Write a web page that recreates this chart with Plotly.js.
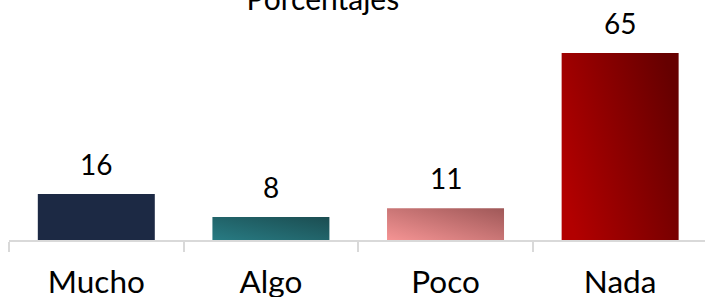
<!DOCTYPE html>
<html>
<head>
<meta charset="utf-8">
<script src="https://cdn.plot.ly/plotly-3.0.1.min.js"></script>
<style>html,body{margin:0;padding:0;background:#fff;}#chart{width:705px;height:297px;}</style>
</head>
<body>
<div id="chart"></div>
<script>
const categories = ["Mucho", "Algo", "Poco", "Nada"];
const values = [16, 8, 11, 65];
const titleText = "Porcentajes";
const baseColors = ["#1c2944", "#287a82", "#f28f8f", "#b30000"];
const gradients = [
  null,
  {x1: 0, y1: 1, x2: 1, y2: 0, from: "#287b83", to: "#1b4d51"},
  {x1: 0, y1: 1, x2: 1, y2: 0, from: "#f59494", to: "#9f5858"},
  {x1: 0, y1: 0.7, x2: 1, y2: 0.3, from: "#b20000", to: "#660000"}
];

const FONT = "Lato, 'Open Sans', sans-serif";

const trace = {
  type: "bar",
  x: categories,
  y: values,
  marker: {color: baseColors, line: {width: 0}},
  hoverinfo: "none",
  showlegend: false
};

const annotations = categories.map((c, i) => ({
  x: c, y: values[i], xref: "x", yref: "y",
  text: String(values[i]), showarrow: false,
  yanchor: "bottom", yshift: 11,
  font: {family: FONT, size: 28, color: "#000"}
}));

const layout = {
  width: 705, height: 297,
  margin: {l: 9, r: 0, t: 0, b: 57},
  paper_bgcolor: "#fff", plot_bgcolor: "#fff",
  bargap: 0.33,
  title: {
    text: titleText, xref: "container", yref: "container",
    x: 0.458, xanchor: "center", y: 0.965, yanchor: "bottom",
    font: {family: FONT, size: 30, color: "#000"}
  },
  xaxis: {
    type: "category", range: [-0.5, 3.486],
    tickson: "boundaries", ticks: "outside", ticklen: 10, tickwidth: 2, tickcolor: "#d9d9d9",
    ticklabelstandoff: 14,
    showline: true, linecolor: "#d9d9d9", linewidth: 1.5,
    showgrid: false, zeroline: false,
    tickfont: {family: FONT, size: 31.5, color: "#000"}
  },
  yaxis: {
    range: [0, 83.4], visible: false, showgrid: false, zeroline: false
  },
  annotations: annotations,
  font: {family: FONT}
};

Plotly.newPlot("chart", [trace], layout, {displayModeBar: false, staticPlot: true}).then(gd => {
  const svg = gd.querySelector("svg.main-svg");
  const NS = "http://www.w3.org/2000/svg";
  let defs = svg.querySelector("defs");
  if (!defs) { defs = document.createElementNS(NS, "defs"); svg.insertBefore(defs, svg.firstChild); }
  const paths = gd.querySelectorAll(".trace.bars .point path");
  paths.forEach((p, i) => {
    const g = gradients[i];
    if (!g) return;
    const lg = document.createElementNS(NS, "linearGradient");
    lg.setAttribute("id", "bargrad" + i);
    lg.setAttribute("x1", g.x1); lg.setAttribute("y1", g.y1);
    lg.setAttribute("x2", g.x2); lg.setAttribute("y2", g.y2);
    const s1 = document.createElementNS(NS, "stop");
    s1.setAttribute("offset", "0"); s1.setAttribute("stop-color", g.from);
    const s2 = document.createElementNS(NS, "stop");
    s2.setAttribute("offset", "1"); s2.setAttribute("stop-color", g.to);
    lg.appendChild(s1); lg.appendChild(s2);
    defs.appendChild(lg);
    p.style.fill = "url(#bargrad" + i + ")";
  });
});
</script>
</body>
</html>
